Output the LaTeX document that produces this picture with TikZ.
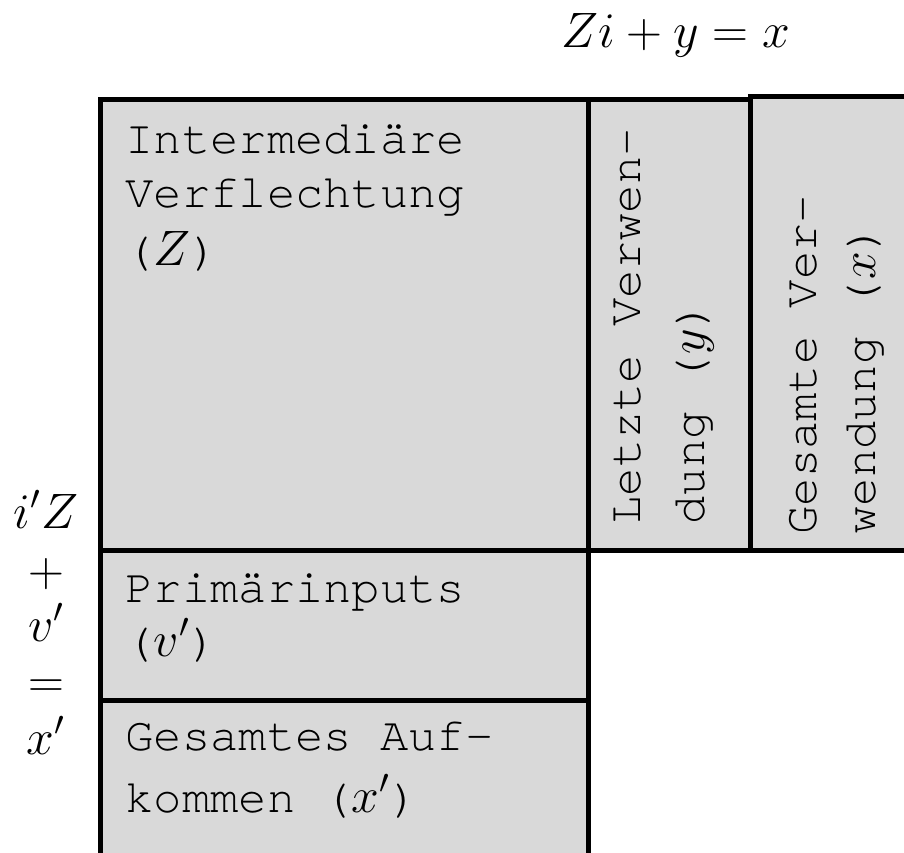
\documentclass[tikz,border=0pt]{standalone}
\usepackage{fontspec}
\newfontfamily\monofont[Ligatures=NoCommon]{TeX Gyre Cursor}
\definecolor{boxgray}{HTML}{D9D9D9}
\newcommand{\mth}[1]{{\fontsize{26pt}{28pt}\selectfont$#1$}}
\tikzset{
  cell/.style={draw=black, line width=2.5pt, fill=boxgray},
  txt/.style={font=\monofont\fontsize{23.6pt}{28pt}\selectfont, anchor=base west, inner sep=0pt, text=black},
  vtxt/.style={txt, rotate=90},
  eqn/.style={font=\fontsize{24.5pt}{28pt}\selectfont, anchor=base, inner sep=0pt, text=black}
}
\begin{document}
\begin{tikzpicture}[x=0.5pt, y=-0.5pt]
\path[use as bounding box] (0,0) rectangle (904,852);
\clip (0,0) rectangle (904,852);
% boxes
\draw[cell] (100,99) rectangle (588,550);
\draw[cell] (588,99) rectangle (750,550);
\draw[cell] (750,96) rectangle (912,550);
\draw[cell] (100,550) rectangle (588,700);
\draw[cell] (100,700) rectangle (588,870);
% texts in left column
\node[txt] (t1) at (125,153) {Intermediäre};
\node[txt] (t2) at (125,207) {Verflechtung};
\node[txt] (t3) at (125,265) {(\mth{Z})};
\node[txt] (p1) at (125,602) {Primärinputs};
\node[txt] (p2) at (125,656) {(\mth{v'})};
\node[txt] (g1) at (125,750) {Gesamtes Auf-};
\node[txt] (g2) at (125,812) {kommen (\mth{x'})};
% vertical texts
\node[vtxt] (l1) at (640,525) {Letzte Verwen-};
\node[vtxt] (l2) at (704,525) {dung (\mth{y})};
\node[vtxt] (v1) at (816,535) {Gesamte Ver-};
\node[vtxt] (v2) at (875,535) {wendung (\mth{x})};
% equations
\node[eqn] (eqtop) at (676,47) {$Zi+y=x$};
\node[eqn] (e1) at (46,528) {$i'Z$};
\node[eqn] (e2) at (46,586) {$+$};
\node[eqn] (e3) at (46,641) {$v'$};
\node[eqn] (e4) at (46,697) {$=$};
\node[eqn] (e5) at (46,754) {$x'$};
\end{tikzpicture}
\end{document}
